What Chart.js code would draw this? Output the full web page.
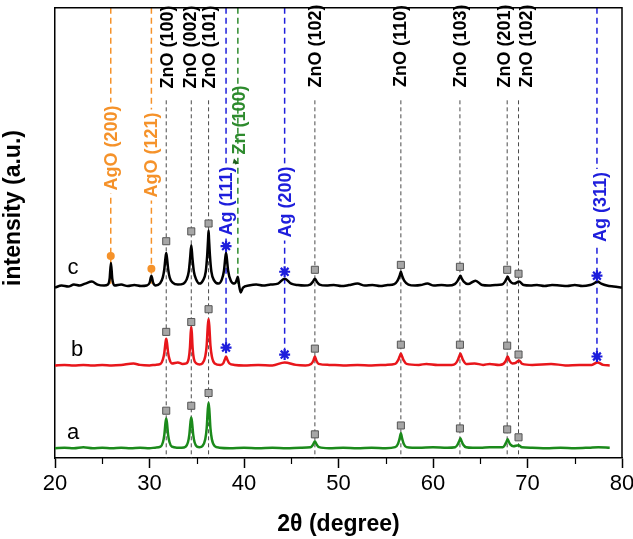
<!DOCTYPE html>
<html>
<head>
<meta charset="utf-8">
<script src="https://cdn.jsdelivr.net/npm/chart.js@4.4.1/dist/chart.umd.min.js"></script>
<style>
  html, body { margin: 0; padding: 0; background: #fff; }
  #wrap { width: 633px; height: 539px; }
</style>
</head>
<body>
<div id="wrap"><canvas id="xrd" width="633" height="539"></canvas></div>
<script>
  // XRD patterns (2theta, intensity a.u.), stacked a / b / c
  const angleA = [20, 21, 22, 23, 24, 25, 26, 27, 28, 29, 30, 30.6, 31.17, 31.42, 31.57, 31.69, 31.77, 31.85, 31.97, 32.12, 32.37, 32.9, 33.4, 33.82, 34.07, 34.22, 34.34, 34.42, 34.5, 34.62, 34.77, 35.02, 35.3, 35.6, 35.9, 36.05, 36.17, 36.25, 36.33, 36.45, 36.6, 36.9, 37.4, 38.5, 40, 41.5, 43, 44.5, 46, 47.05, 47.3, 47.5, 47.7, 47.95, 49, 50.5, 52, 53.5, 55, 56.0, 56.3, 56.47, 56.6, 56.73, 56.9, 57.2, 57.8, 58.5, 60, 61.5, 62.35, 62.6, 62.77, 62.9, 63.03, 63.2, 63.5, 64.2, 65, 66, 67.4, 67.62, 67.78, 67.9, 68.02, 68.2, 68.5, 69.05, 69.4, 70.5, 72, 73.5, 75, 76.5, 77.5, 78.7];
  const intA = [10, 10.5, 10, 11, 10, 10.5, 10, 10.5, 10, 10.5, 10, 10.5, 11.5, 16, 23.5, 35.5, 40, 35.5, 23.5, 16, 11.5, 10.5, 10.5, 11.5, 16, 24, 36.5, 41, 36.5, 24, 16, 11.5, 11, 12, 19, 30, 49, 56, 49, 30, 19, 12, 10.5, 10, 10.5, 10, 10.5, 10, 10.5, 11, 13.5, 17, 13.5, 11, 10, 10.5, 10, 10.5, 10, 11, 14.5, 20, 25, 20, 14.5, 11, 10.5, 10.5, 11, 10.5, 11, 13.5, 17, 20, 17, 13.5, 11, 10.5, 10.5, 11, 11, 13.5, 16.5, 19, 16.5, 13.5, 12, 13, 11, 10.5, 10, 10.5, 10, 10.5, 11, 10.5];

  const angleB = [20, 21, 22, 23, 24, 25, 26, 27, 28.3, 29, 30, 30.6, 31.17, 31.42, 31.57, 31.69, 31.77, 31.85, 31.97, 32.12, 32.37, 33.0, 33.5, 33.9, 34.15, 34.28, 34.36, 34.42, 34.48, 34.56, 34.69, 34.95, 35.3, 35.6, 35.9, 36.05, 36.17, 36.25, 36.33, 36.45, 36.6, 36.9, 37.5, 37.8, 37.97, 38.1, 38.23, 38.45, 39, 40, 41.5, 43, 44.3, 45.5, 46.5, 47.1, 47.35, 47.5, 47.65, 47.9, 49, 50.5, 52, 53.5, 55, 56.0, 56.3, 56.47, 56.6, 56.73, 56.9, 57.2, 58.5, 59.3, 60.5, 62, 62.35, 62.6, 62.77, 62.9, 63.03, 63.2, 63.5, 64.4, 65.3, 66, 67, 67.45, 67.7, 67.9, 68.1, 68.4, 68.75, 69.1, 69.45, 70.5, 72.5, 74, 75.5, 76.8, 77.4, 78, 78.7];
  const intB = [94, 94.5, 94, 94.5, 94, 94.5, 94, 94.5, 96, 94.5, 94, 94.5, 95.5, 100, 107, 117, 121, 117, 107, 100, 96, 97, 95.5, 96, 101, 112, 127, 133, 127, 112, 101, 96, 95, 96, 103, 114, 134, 141, 134, 114, 103, 96, 94.5, 96, 100, 103, 100, 96, 94.5, 94, 94.5, 94, 97, 94.5, 94, 95.5, 99, 103, 99, 95.5, 94.5, 94, 94.5, 94, 94.5, 95.5, 99, 103, 106, 103, 99, 95.5, 94.5, 95.5, 94.5, 94.5, 95.5, 99, 103, 106, 103, 99, 95.5, 96, 94.5, 95.5, 94.5, 95.5, 98.5, 103, 98.5, 96, 96.5, 99, 95.5, 94.5, 95.5, 94, 94.5, 94.5, 97, 94.5, 94];

  const angleC = [20, 20.7, 21.4, 22.0, 22.6, 23.2, 23.9, 24.5, 25.2, 25.6, 25.78, 25.92, 26.06, 26.3, 27, 27.7, 28.4, 29.1, 29.7, 30.02, 30.2, 30.38, 30.65, 31.1, 31.4, 31.57, 31.69, 31.77, 31.85, 31.97, 32.14, 32.45, 33.0, 33.6, 33.92, 34.15, 34.3, 34.42, 34.54, 34.7, 34.95, 35.3, 35.65, 35.95, 36.1, 36.2, 36.25, 36.3, 36.4, 36.55, 36.85, 37.3, 37.65, 37.88, 38.02, 38.1, 38.18, 38.32, 38.6, 39.0, 39.2, 39.35, 39.5, 39.65, 39.9, 40.5, 41.3, 42.0, 42.8, 43.6, 44.3, 45.0, 45.7, 46.4, 47.0, 47.3, 47.5, 47.7, 48.0, 48.7, 49.5, 50.3, 51.1, 52.0, 52.8, 53.6, 54.4, 55.2, 55.9, 56.25, 56.47, 56.6, 56.73, 56.95, 57.4, 58.1, 58.7, 59.4, 60.1, 60.9, 61.6, 62.3, 62.62, 62.78, 62.9, 63.05, 63.25, 63.7, 64.5, 65.2, 65.9, 66.6, 67.3, 67.62, 67.78, 67.9, 68.05, 68.3, 68.6, 69.1, 69.6, 70.3, 71.0, 71.8, 72.6, 73.4, 74.2, 75.0, 75.8, 76.6, 77.0, 77.4, 77.8, 78.4, 79.1, 80];
  const intC = [173, 175, 174, 176, 175, 177, 179, 176, 175, 176, 182, 198, 182, 175, 176, 174.5, 175.5, 174.5, 175, 178, 185, 178, 175, 177, 183, 192, 203, 208, 203, 192, 183, 178, 176, 177, 181, 189, 203, 216, 203, 189, 181, 177, 180, 189, 205, 222, 231, 222, 205, 189, 180, 177, 181, 190, 203, 208, 203, 190, 180, 177, 180, 184, 174, 168, 173, 175, 176, 175, 176, 177, 182, 177, 175.5, 175, 176, 179, 182, 179, 176, 175, 175.5, 174.5, 175.5, 177, 175, 175.5, 174.5, 175.5, 176.5, 180, 185, 189, 185, 180, 176, 175, 175.5, 177, 175, 175.5, 175, 176.5, 180, 183, 185, 182, 179, 176.5, 180, 175.5, 175, 175.5, 176, 179, 182, 184, 181, 178, 177, 179, 175.5, 175, 175.5, 174.5, 175.5, 175, 174.5, 175.5, 174.5, 175.5, 177, 179, 177, 175, 174, 173];

  // phase markers
  const znoAngles = [31.77, 34.42, 36.25, 47.5, 56.6, 62.85, 67.85, 69.05];
  const znoMarkA = [48, 53, 66, 24, 33, 30, 29, 21];
  const znoMarkB = [128, 138, 151, 111, 115, 115, 114, 105];
  const znoMarkC = [220, 230, 238, 191, 196, 194, 191, 187];
  const agAngles = [38.1, 44.3, 77.35];
  const agMarkB = [112, 105, 103];
  const agMarkC = [215, 189, 185];
  const agoAngles = [25.9, 30.2];
  const agoMarkC = [205, 192];

  // reference lines and their labels
  const refText = ["AgO (200)", "AgO (121)", "ZnO (100)", "ZnO (002)", "ZnO (101)", "Ag (111)", "Zn (100)", "Ag (200)", "ZnO (102)", "ZnO (110)", "ZnO (103)", "ZnO (201)", "ZnO (102)", "Ag (311)"];
  const refPhase = ["AgO", "AgO", "ZnO", "ZnO", "ZnO", "Ag", "Zn", "Ag", "ZnO", "ZnO", "ZnO", "ZnO", "ZnO", "Ag"];
  const refAngle = [25.9, 30.2, 31.77, 34.42, 36.25, 38.1, 39.35, 44.3, 47.5, 56.6, 62.85, 67.85, 69.05, 77.35];
  const refTop = [457, 457, 363, 363, 363, 457, 457, 457, 363, 363, 363, 363, 363, 457];
  const refBottom = [175, 175, 0, 0, 0, 112, 175, 105, 0, 0, 0, 0, 0, 103];

  const traceNames = ["a", "b", "c"];

  // styling / layout (pixels)
  const FONT = '"Liberation Sans", Arial, Helvetica, sans-serif';
  const phaseStyle = {
    ZnO: { color: "#000", line: "#4a4a4a", dash: [4, 3], width: 1, knockout: false },
    Ag: { color: "#1e1edc", line: "#1e1edc", dash: [6, 4], width: 1.5, knockout: true },
    AgO: { color: "#f5922a", line: "#f5922a", dash: [6, 4], width: 1.5, knockout: true },
    Zn: { color: "#2e8b2e", line: "#2e8b2e", dash: [6, 4], width: 1.5, knockout: false },
  };
  const labelCenterY = [148, 155, 47, 47, 47, 201, 120, 202, 46, 46, 46, 46, 46, 207];
  const labelShiftX = [0, 0, 1, -1, 0, 0, 1, 0, 0, -1, 0, -3, 8, 3];
  const tracePos = [[73, 433], [77, 350], [73, 268]];

  const pts = (xs, ys) => xs.map((x, i) => ({ x, y: ys[i] }));

  const datasets = [];

  // markers on top
  [znoMarkA, znoMarkB, znoMarkC].forEach((ys) => {
    datasets.push({
      data: pts(znoAngles, ys), showLine: false, order: 0,
      pointStyle: "rect", pointRadius: 5, backgroundColor: "#a6a6a6", borderColor: "#555", borderWidth: 1,
    });
  });
  [agMarkB, agMarkC].forEach((ys) => {
    datasets.push({
      data: pts(agAngles, ys), showLine: false, order: 0,
      pointStyle: "star", pointRadius: 5.5, borderColor: "#1e1edc", backgroundColor: "#1e1edc", borderWidth: 2.2,
    });
  });
  datasets.push({
    data: pts(agoAngles, agoMarkC), showLine: false, order: 0,
    pointStyle: "circle", pointRadius: 4, backgroundColor: "#f5922a", borderColor: "#f5922a", borderWidth: 0,
  });
  // small arrow head on the Zn (100) label
  datasets.push({
    data: [{ x: 39.05, y: 300 }], showLine: false, order: 0,
    pointStyle: "triangle", rotation: 225, pointRadius: 4, backgroundColor: "#1d5e1d", borderColor: "#1d5e1d", borderWidth: 0,
  });

  // traces
  [[angleA, intA, "#1b8a1b"], [angleB, intB, "#e8161b"], [angleC, intC, "#000"]].forEach(([xs, ys, c]) => {
    datasets.push({
      data: pts(xs, ys), order: 1, borderColor: c, borderWidth: 2.5, pointRadius: 0,
      cubicInterpolationMode: "monotone", fill: false,
    });
  });

  // reference lines behind everything
  refAngle.forEach((a, i) => {
    const st = phaseStyle[refPhase[i]];
    datasets.push({
      data: [{ x: a, y: refTop[i] }, { x: a, y: refBottom[i] }], order: 2,
      borderColor: st.line, borderWidth: st.width, borderDash: st.dash, pointRadius: 0,
    });
  });

  const annotate = {
    id: "annotate",
    afterDatasetsDraw(chart) {
      const { ctx, scales: { x } } = chart;
      ctx.save();
      ctx.font = "bold 18px " + FONT;
      ctx.textAlign = "center";
      ctx.textBaseline = "middle";
      refText.forEach((t, i) => {
        const st = phaseStyle[refPhase[i]];
        const px = x.getPixelForValue(refAngle[i]) + labelShiftX[i];
        ctx.save();
        ctx.translate(px, labelCenterY[i]);
        ctx.rotate(-Math.PI / 2);
        if (st.knockout) {
          const w = ctx.measureText(t).width;
          ctx.fillStyle = "#fff";
          ctx.fillRect(-w / 2 - 3, -9, w + 6, 18);
        }
        ctx.fillStyle = st.color;
        ctx.fillText(t, 0, 1);
        ctx.restore();
      });

      ctx.font = "22px " + FONT;
      ctx.fillStyle = "#000";
      traceNames.forEach((n, i) => ctx.fillText(n, tracePos[i][0], tracePos[i][1]));
      ctx.restore();
    },
    afterDraw(chart) {
      const { ctx, chartArea: a, scales: { x } } = chart;
      ctx.save();
      // frame top + right
      ctx.strokeStyle = "#000";
      ctx.lineWidth = 1.5;
      ctx.beginPath();
      ctx.moveTo(a.left, a.top);
      ctx.lineTo(a.right, a.top);
      ctx.lineTo(a.right, a.bottom);
      ctx.stroke();
      // minor ticks
      ctx.lineWidth = 1.2;
      for (let v = 25; v < 80; v += 10) {
        const px = Math.round(x.getPixelForValue(v)) + 0.5;
        ctx.beginPath();
        ctx.moveTo(px, a.bottom);
        ctx.lineTo(px, a.bottom + 6);
        ctx.stroke();
      }
      // y title
      ctx.translate(14, 208);
      ctx.rotate(-Math.PI / 2);
      ctx.font = "bold 23px " + FONT;
      ctx.fillStyle = "#000";
      ctx.textAlign = "center";
      ctx.textBaseline = "middle";
      ctx.fillText("intensity (a.u.)", 0, 0);
      ctx.restore();
    },
  };

  new Chart(document.getElementById("xrd"), {
    type: "line",
    data: { datasets },
    options: {
      responsive: false,
      devicePixelRatio: 1,
      animation: false,
      layout: { padding: { top: 1, right: 11, left: 0, bottom: 0 } },
      plugins: { legend: { display: false }, tooltip: { enabled: false } },
      scales: {
        x: {
          type: "linear", min: 20, max: 80,
          ticks: {
            stepSize: 5, autoSkip: false, maxRotation: 0, color: "#000",
            font: { family: FONT, size: 22 },
            callback: (v) => (v % 10 === 0 ? String(v) : ""),
          },
          grid: {
            drawOnChartArea: false, drawTicks: true, tickLength: 10, tickWidth: 1.5,
            tickColor: (c) => (c.tick && c.tick.value % 10 === 0 ? "#000" : "rgba(0,0,0,0)"),
          },
          border: { display: true, color: "#000", width: 1.5 },
          title: {
            display: true, text: "2θ (degree)", color: "#000",
            font: { family: FONT, size: 23, weight: "bold" },
            padding: { top: 0, bottom: 1 },
          },
          afterFit: (s) => { s.height = 81; s.paddingLeft = 0; s.paddingRight = 0; },
        },
        y: {
          min: 0, max: 457,
          ticks: { display: false },
          grid: { display: false },
          border: { display: true, color: "#000", width: 1.5 },
          afterFit: (s) => { s.width = 55; },
        },
      },
    },
    plugins: [annotate],
  });
</script>
</body>
</html>
